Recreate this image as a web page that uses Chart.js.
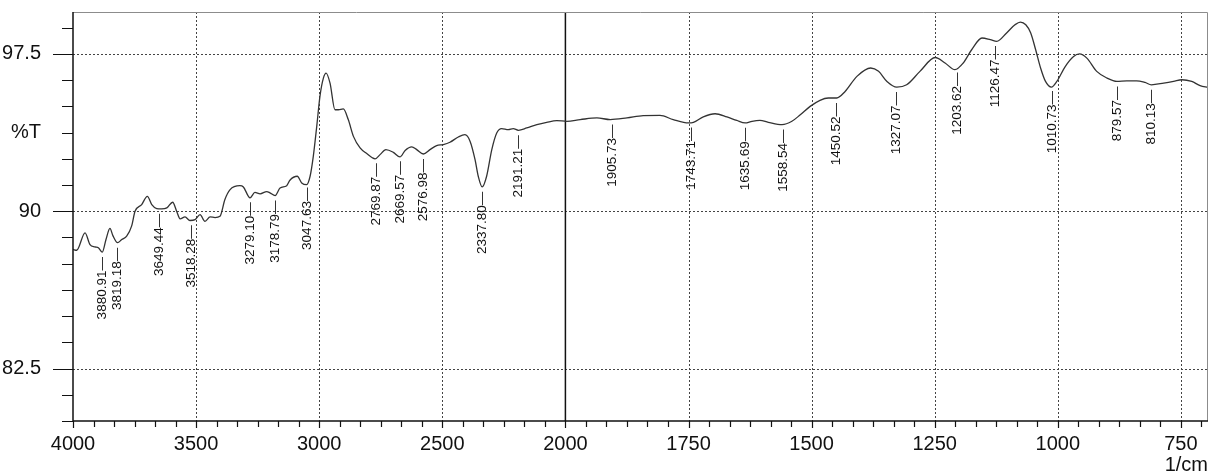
<!DOCTYPE html>
<html>
<head>
<meta charset="utf-8">
<script src="https://cdn.jsdelivr.net/npm/chart.js@4.4.1/dist/chart.umd.min.js"></script>
<style>
  html, body { margin: 0; padding: 0; background: #fff; }
  #wrap { width: 1211px; height: 474px; }
</style>
</head>
<body>
<div id="wrap"><canvas id="irChart" width="1211" height="474"></canvas></div>
<script>
const wavenumbers = [
  4000, 3985, 3951, 3931, 3911, 3897, 3881, 3866, 3850, 3838, 3819, 3802, 3782, 3762, 3748,
  3721, 3698, 3680, 3660, 3640, 3619, 3595, 3579, 3565, 3545, 3525, 3504, 3484, 3464, 3443,
  3423, 3403, 3383, 3362, 3322, 3308, 3281, 3261, 3240, 3213, 3200, 3179, 3159, 3132, 3119,
  3089, 3071, 3051, 3037, 3024, 3010, 2997, 2983, 2972, 2956, 2936, 2922, 2902, 2882, 2861,
  2834, 2807, 2773, 2753, 2729, 2699, 2672, 2651, 2624, 2604, 2577, 2550, 2523, 2496, 2469,
  2435, 2408, 2387, 2367, 2354, 2338, 2320, 2299, 2279, 2259, 2232, 2212, 2191, 2157, 2116,
  2076, 2035, 1997, 1970, 1936, 1909, 1875, 1842, 1808, 1781, 1750, 1740, 1720, 1696, 1672,
  1652, 1635, 1621, 1605, 1588, 1560, 1540, 1523, 1503, 1483, 1466, 1449, 1432, 1408, 1380,
  1364, 1347, 1327, 1307, 1280, 1249, 1229, 1209, 1192, 1175, 1154, 1137, 1124, 1104, 1087,
  1076, 1065, 1055, 1045, 1035, 1025, 1013, 1002, 985, 968, 956, 941, 921, 900, 880,
  860, 840, 823, 810, 785, 765, 748, 728, 711, 695
];
const transmittance = [
  88.18, 88.14, 88.97, 88.41, 88.30, 88.26, 88.05, 88.65, 89.18, 88.84, 88.50, 88.65, 88.81, 89.29, 90.00,
  90.32, 90.71, 90.32, 90.13, 90.11, 90.16, 90.43, 90.00, 89.64, 89.73, 89.56, 89.60, 89.84, 89.52, 89.73,
  89.70, 89.76, 90.56, 91.03, 91.22, 91.16, 90.64, 90.90, 90.83, 90.94, 90.88, 90.75, 91.11, 91.22, 91.48,
  91.67, 91.35, 91.27, 91.67, 92.62, 94.05, 95.48, 96.35, 96.59, 96.11, 94.84, 94.84, 94.88, 94.37, 93.57,
  93.02, 92.75, 92.50, 92.70, 92.94, 92.81, 92.59, 92.90, 93.07, 92.94, 92.73, 92.94, 93.13, 93.18, 93.29,
  93.54, 93.65, 93.33, 92.46, 91.67, 91.16, 91.67, 92.94, 93.73, 93.94, 93.89, 93.94, 93.86, 93.97, 94.13,
  94.24, 94.32, 94.29, 94.37, 94.45, 94.37, 94.45, 94.56, 94.57, 94.37, 94.21, 94.24, 94.50, 94.65, 94.50,
  94.33, 94.21, 94.29, 94.33, 94.24, 94.13, 94.29, 94.60, 95.00, 95.29, 95.40, 95.40, 95.71, 96.43, 96.83,
  96.67, 96.19, 95.92, 96.03, 96.67, 97.33, 97.07, 96.75, 97.07, 97.70, 98.26, 98.18, 98.10, 98.50, 98.89,
  99.02, 98.89, 98.50, 97.70, 96.83, 96.19, 95.92, 96.19, 96.90, 97.38, 97.50, 97.30, 96.67, 96.35, 96.19,
  96.22, 96.22, 96.14, 96.03, 96.11, 96.19, 96.27, 96.19, 95.99, 95.90
];
const peakWavenumbers = [
  3880.91, 3819.18, 3649.44, 3518.28, 3279.10, 3178.79, 3047.63, 2769.87, 2669.57, 2576.98,
  2337.80, 2191.21, 1905.73, 1743.71, 1635.69, 1558.54, 1450.52, 1327.07, 1203.62, 1126.47,
  1010.73, 879.57, 810.13
];
const peakLabels = peakWavenumbers.map(v => v.toFixed(2));
const xTickLabels = [4000, 3500, 3000, 2500, 2000, 1750, 1500, 1250, 1000, 750];
const yTickLabels = [82.5, 90, 97.5];
const yAxisTitle = '%T';
const xAxisTitle = '1/cm';

const FONT = '"Liberation Sans", Arial, sans-serif';

// the spectrum is drawn with double scale below 2000 1/cm
function toAxis(wn) { return wn >= 2000 ? 4000 - wn : 2000 + (2000 - wn) * 2; }
function fromAxis(u) { return u <= 2000 ? 4000 - u : 2000 - (u - 2000) / 2; }

const X_MAX = toAxis(695);
const Y_MIN = 80, Y_MAX = 99.5;

function valueAt(wn) {
  for (let i = 0; i < wavenumbers.length - 1; i++) {
    const a = wavenumbers[i], b = wavenumbers[i + 1];
    if (wn <= a && wn >= b) {
      const t = (a - wn) / (a - b);
      return transmittance[i] + t * (transmittance[i + 1] - transmittance[i]);
    }
  }
  return transmittance[transmittance.length - 1];
}

function isMajorX(u) {
  return xTickLabels.some(wn => Math.abs(toAxis(wn) - u) < 0.01);
}

const decor = {
  id: 'decor',
  beforeDatasetsDraw(chart) {
    const { ctx, chartArea: a, scales: { x, y } } = chart;
    ctx.save();
    ctx.strokeStyle = '#444';
    ctx.lineWidth = 1;
    ctx.setLineDash([2, 2]);
    ctx.beginPath();
    yTickLabels.forEach(v => {
      const py = Math.round(y.getPixelForValue(v)) + 0.5;
      ctx.moveTo(a.left, py);
      ctx.lineTo(a.right, py);
    });
    xTickLabels.forEach(wn => {
      if (wn === 4000 || wn === 2000) return;
      const px = Math.round(x.getPixelForValue(toAxis(wn))) + 0.5;
      ctx.moveTo(px, a.top);
      ctx.lineTo(px, a.bottom);
    });
    ctx.stroke();
    ctx.setLineDash([]);
    ctx.strokeStyle = '#111';
    ctx.lineWidth = 1.5;
    const p2000 = x.getPixelForValue(toAxis(2000));
    ctx.beginPath();
    ctx.moveTo(p2000, a.top);
    ctx.lineTo(p2000, a.bottom);
    ctx.stroke();
    ctx.restore();
  },
  afterDatasetsDraw(chart) {
    const { ctx, chartArea: a, scales: { x, y } } = chart;
    ctx.save();
    // frame
    ctx.strokeStyle = '#8c8c8c';
    ctx.lineWidth = 1;
    ctx.beginPath();
    ctx.moveTo(a.left, a.top + 0.5);
    ctx.lineTo(a.right - 0.5, a.top + 0.5);
    ctx.lineTo(a.right - 0.5, a.bottom);
    ctx.stroke();
    ctx.strokeStyle = '#111';
    ctx.lineWidth = 1.5;
    ctx.beginPath();
    ctx.moveTo(a.left, a.top);
    ctx.lineTo(a.left, a.bottom);
    ctx.lineTo(a.right, a.bottom);
    ctx.stroke();

    // tick marks
    ctx.lineWidth = 1.2;
    ctx.beginPath();
    for (let v = Y_MIN; v <= Y_MAX; v += 1.25) {
      const py = Math.round(y.getPixelForValue(v)) + 0.5;
      const len = yTickLabels.includes(v) ? 20 : 11;
      ctx.moveTo(a.left - len, py);
      ctx.lineTo(a.left, py);
    }
    for (let k = 0; k * 500 / 6 <= X_MAX; k++) {
      const px = Math.round(x.getPixelForValue(k * 500 / 6)) + 0.5;
      ctx.moveTo(px, a.bottom);
      ctx.lineTo(px, a.bottom + (k % 6 === 0 ? 7 : 6));
    }
    ctx.stroke();

    // peak labels
    ctx.fillStyle = '#111';
    ctx.font = '13.5px ' + FONT;
    ctx.textAlign = 'right';
    ctx.textBaseline = 'middle';
    peakWavenumbers.forEach((wn, i) => {
      const px = x.getPixelForValue(toAxis(wn));
      const py = y.getPixelForValue(valueAt(wn)) + 5;
      ctx.save();
      ctx.translate(px, py);
      ctx.rotate(-Math.PI / 2);
      ctx.fillText(peakLabels[i] + '\u2014', 0, 0);
      ctx.restore();
    });

    // axis unit
    ctx.font = '20px ' + FONT;
    ctx.textAlign = 'right';
    ctx.textBaseline = 'alphabetic';
    ctx.fillText(xAxisTitle, a.right, 471);
    ctx.restore();
  }
};

const ctx = document.getElementById('irChart').getContext('2d');

new Chart(ctx, {
  type: 'line',
  data: {
    datasets: [{
      label: '%T',
      data: wavenumbers.map((wn, i) => ({ x: toAxis(wn), y: transmittance[i] })),
      borderColor: '#333',
      borderWidth: 1.3,
      pointRadius: 0,
      cubicInterpolationMode: 'monotone',
      fill: false
    }]
  },
  options: {
    responsive: false,
    animation: false,
    devicePixelRatio: 1,
    layout: { padding: { top: 12, right: 3, left: 0, bottom: 0 } },
    plugins: {
      legend: { display: false },
      tooltip: { enabled: false }
    },
    scales: {
      x: {
        type: 'linear',
        min: 0,
        max: X_MAX,
        afterBuildTicks: scale => {
          const t = [];
          for (let k = 0; k * 500 / 6 <= X_MAX; k++) t.push({ value: k * 500 / 6 });
          scale.ticks = t;
        },
        afterFit: scale => {
          scale.height = 53;
          scale.paddingLeft = 0;
          scale.paddingRight = 0;
        },
        grid: { display: false },
        border: { display: false },
        ticks: {
          autoSkip: false,
          maxRotation: 0,
          padding: 3,
          color: '#111',
          font: { family: FONT, size: 20 },
          callback: v => isMajorX(v) ? String(Math.round(fromAxis(v))) : ''
        }
      },
      y: {
        min: Y_MIN,
        max: Y_MAX,
        afterBuildTicks: scale => {
          const t = [];
          for (let v = Y_MIN; v <= Y_MAX; v += 1.25) t.push({ value: v });
          scale.ticks = t;
        },
        afterFit: scale => {
          scale.width = 73;
          scale.paddingTop = 0;
          scale.paddingBottom = 0;
        },
        grid: { display: false },
        border: { display: false },
        ticks: {
          autoSkip: false,
          padding: 24,
          color: '#111',
          font: { family: FONT, size: 20 },
          callback: v => yTickLabels.includes(v) ? String(v) : (v === 93.75 ? yAxisTitle : '')
        }
      }
    }
  },
  plugins: [decor]
});
</script>
</body>
</html>
